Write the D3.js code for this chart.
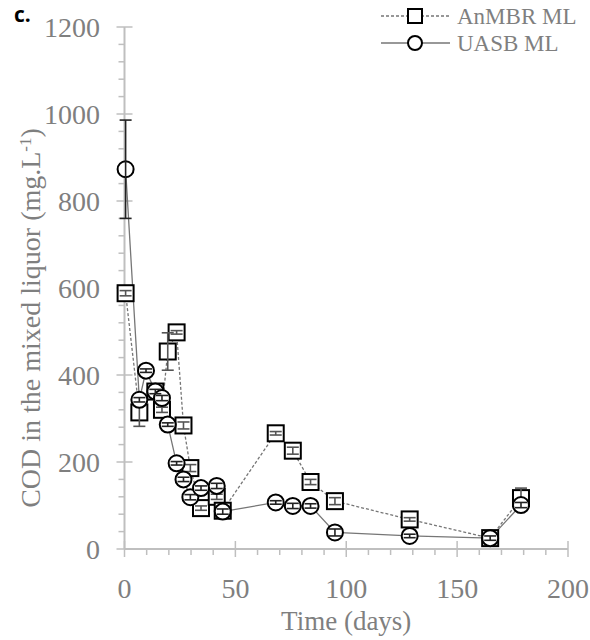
<!DOCTYPE html>
<html>
<head>
<meta charset="utf-8">
<script src="https://cdn.jsdelivr.net/npm/d3@7"></script>
<style>
  html, body { margin: 0; padding: 0; background: #fff; }
  svg { display: block; }
</style>
</head>
<body>
<svg id="chart" width="590" height="640"></svg>
<script>
// Sampling days (shared by both reactors where measured)
const daysAnMBR = [0.5, 6.7, 13.9, 16.9, 19.5, 23.5, 26.6, 29.7, 34.5, 41.6, 44.3, 68.2, 75.9, 83.9, 94.9, 128.6, 164.9, 178.8];
const codAnMBR  = [588, 314, 362, 320, 454, 498, 284, 186, 94, 120, 88, 266, 226, 154, 110, 68, 25, 117];
const errAnMBR  = [6, 32, 5, 6, 43, 4, 8, 8, 5, 6, 5, 4, 8, 6, 8, 4, 5, 23];

const daysUASB = [0.5, 6.7, 9.7, 13.9, 16.9, 19.5, 23.5, 26.6, 29.7, 34.5, 41.6, 44.3, 68.2, 75.9, 83.9, 94.9, 128.6, 164.9, 178.8];
const codUASB  = [873, 343, 410, 362, 347, 286, 197, 160, 119, 140, 145, 86, 107, 99, 99, 38, 30, 25, 101];
const errUASB  = [113, 5, 4, 5, 6, 4, 4, 5, 6, 5, 6, 6, 4, 6, 5, 8, 4, 5, 6];

const xTicks = [0, 50, 100, 150, 200];
const yTicks = [0, 200, 400, 600, 800, 1000, 1200];
const seriesNames = ["AnMBR ML", "UASB ML"];

const svg = d3.select("#chart");
const axisColor = "#bfbfbf";
const textColor = "#7f7f7f";
const serif = "'Liberation Serif', 'Times New Roman', serif";

const x = d3.scaleLinear().domain([0, 200]).range([124.5, 568]);
const y = d3.scaleLinear().domain([0, 1200]).range([549, 27]);

// Axes: lines, major ticks crossing the axis, minor ticks outside
const gAxes = svg.append("g");
gAxes.append("line").attr("x1", x(0)).attr("x2", x(0)).attr("y1", y(0)).attr("y2", y(1200))
  .attr("stroke", axisColor).attr("stroke-width", 2);
gAxes.append("line").attr("x1", x(0)).attr("x2", x(200)).attr("y1", y(0)).attr("y2", y(0))
  .attr("stroke", axisColor).attr("stroke-width", 2);

const yMinor = d3.range(0, 1201, 40).filter(v => v % 200 !== 0);
gAxes.selectAll(".ymin").data(yMinor).join("line")
  .attr("x1", x(0) - 6).attr("x2", x(0)).attr("y1", d => y(d)).attr("y2", d => y(d))
  .attr("stroke", axisColor).attr("stroke-width", 1.5);
gAxes.selectAll(".ymaj").data(yTicks).join("line")
  .attr("x1", x(0) - 8).attr("x2", x(0) + 8).attr("y1", d => y(d)).attr("y2", d => y(d))
  .attr("stroke", axisColor).attr("stroke-width", 1.5);

const xMinor = d3.range(0, 201, 10).filter(v => v % 50 !== 0);
gAxes.selectAll(".xmin").data(xMinor).join("line")
  .attr("x1", d => x(d)).attr("x2", d => x(d)).attr("y1", y(0)).attr("y2", y(0) + 6)
  .attr("stroke", axisColor).attr("stroke-width", 1.5);
gAxes.selectAll(".xmaj").data(xTicks).join("line")
  .attr("x1", d => x(d)).attr("x2", d => x(d)).attr("y1", y(0) - 8).attr("y2", y(0) + 8)
  .attr("stroke", axisColor).attr("stroke-width", 1.5);

// Tick labels
svg.append("g").selectAll("text").data(yTicks).join("text")
  .attr("x", 100).attr("y", d => y(d)).attr("dy", "0.35em")
  .attr("text-anchor", "end").attr("font-family", serif).attr("font-size", 28)
  .attr("fill", textColor).text(d => d);
svg.append("g").selectAll("text").data(xTicks).join("text")
  .attr("x", d => x(d)).attr("y", 598)
  .attr("text-anchor", "middle").attr("font-family", serif).attr("font-size", 28)
  .attr("fill", textColor).text(d => d);

// Axis titles
svg.append("text").attr("x", x(100)).attr("y", 630).attr("text-anchor", "middle")
  .attr("font-family", serif).attr("font-size", 27).attr("fill", textColor).text("Time (days)");
const yt = svg.append("text")
  .attr("transform", "translate(40,318) rotate(-90)")
  .attr("text-anchor", "middle").attr("font-family", serif).attr("font-size", 28).attr("fill", textColor);
yt.append("tspan").text("COD in the mixed liquor (mg.L");
yt.append("tspan").attr("dy", -9).attr("font-size", 17).text("-1");
yt.append("tspan").attr("dy", 9).text(")");

// Panel letter
svg.append("text").attr("x", 14).attr("y", 22).attr("font-family", "Open Sans, Arial, sans-serif")
  .attr("font-weight", 700).attr("font-size", 21).attr("fill", "#000").text("c.");

// Series
const anData = daysAnMBR.map((d, i) => ({ day: d, v: codAnMBR[i], e: errAnMBR[i] }));
const uaData = daysUASB.map((d, i) => ({ day: d, v: codUASB[i], e: errUASB[i] }));
const line = d3.line().x(d => x(d.day)).y(d => y(d.v));

svg.append("path").datum(uaData).attr("d", line).attr("fill", "none")
  .attr("stroke", "#767676").attr("stroke-width", 1.3);
svg.append("path").datum(anData).attr("d", line).attr("fill", "none")
  .attr("stroke", "#767676").attr("stroke-width", 1.3).attr("stroke-dasharray", "3,2");

const ms = 16;
function drawMarkers(data, shape) {
  const g = svg.append("g");
  if (shape === "square") {
    g.selectAll("rect").data(data).join("rect")
      .attr("x", d => x(d.day) - ms / 2).attr("y", d => y(d.v) - ms / 2)
      .attr("width", ms).attr("height", ms)
      .attr("fill", "#fff").attr("stroke", "#000").attr("stroke-width", 2);
  } else {
    g.selectAll("circle").data(data).join("circle")
      .attr("cx", d => x(d.day)).attr("cy", d => y(d.v)).attr("r", ms / 2)
      .attr("fill", "#fff").attr("stroke", "#000").attr("stroke-width", 2);
  }
}
function drawErrors(data, color) {
  const g = svg.append("g").attr("stroke", color).attr("stroke-width", 1.6);
  const cap = 6;
  data.forEach(d => {
    const cx = x(d.day), y1 = y(d.v + d.e), y2 = y(d.v - d.e);
    g.append("line").attr("x1", cx).attr("x2", cx).attr("y1", y1).attr("y2", y2);
    g.append("line").attr("x1", cx - cap).attr("x2", cx + cap).attr("y1", y1).attr("y2", y1);
    g.append("line").attr("x1", cx - cap).attr("x2", cx + cap).attr("y1", y2).attr("y2", y2);
  });
}
drawMarkers(anData, "square");
drawErrors(anData, "#555");
drawMarkers(uaData, "circle");
drawErrors(uaData, "#222");

// Legend
const lg = svg.append("g");
const legendRows = [
  { name: seriesNames[0], yy: 16, dash: "3,2", shape: "square" },
  { name: seriesNames[1], yy: 43, dash: null, shape: "circle" }
];
legendRows.forEach(r => {
  lg.append("line").attr("x1", 381).attr("x2", 450).attr("y1", r.yy).attr("y2", r.yy)
    .attr("stroke", "#767676").attr("stroke-width", 1.3).attr("stroke-dasharray", r.dash);
  if (r.shape === "square") {
    lg.append("rect").attr("x", 415 - 7).attr("y", r.yy - 7).attr("width", 14).attr("height", 14)
      .attr("fill", "#fff").attr("stroke", "#000").attr("stroke-width", 2);
  } else {
    lg.append("circle").attr("cx", 415).attr("cy", r.yy).attr("r", 7)
      .attr("fill", "#fff").attr("stroke", "#000").attr("stroke-width", 2);
  }
  lg.append("text").attr("x", 457).attr("y", r.yy).attr("dy", "0.35em")
    .attr("font-family", serif).attr("font-size", 23).attr("fill", textColor).text(r.name);
});
</script>
</body>
</html>
